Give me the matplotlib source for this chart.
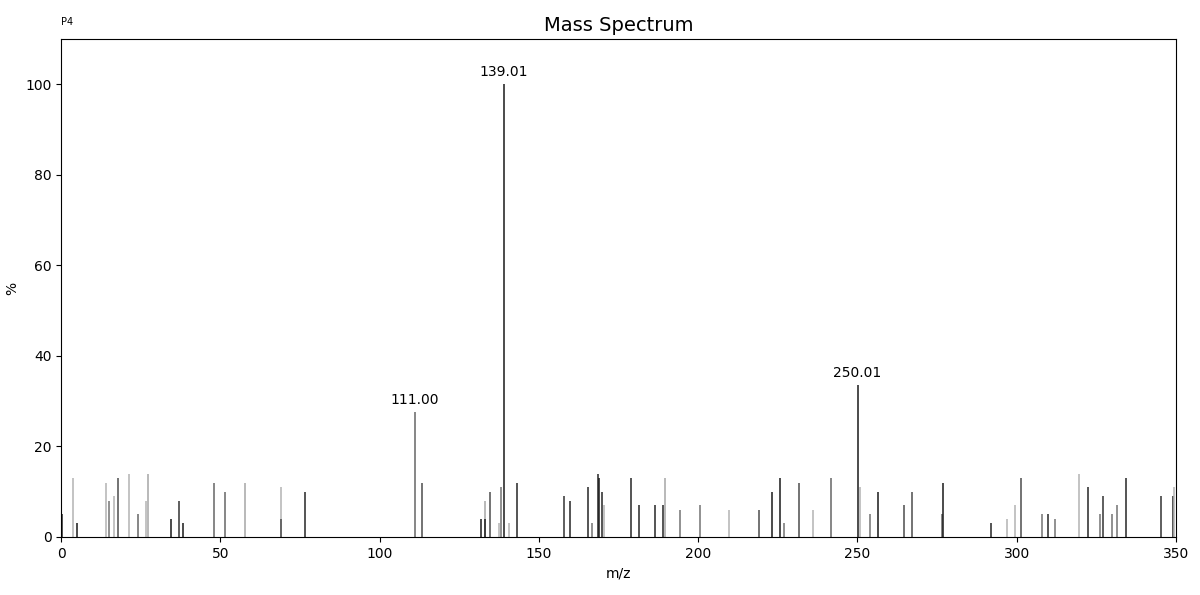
import matplotlib
matplotlib.use("Agg")
import matplotlib.pyplot as plt

# ---------- DATA ----------
mz = [0.3, 3.7, 5.1, 14.0, 15.0, 16.6, 17.9, 21.2, 24.1, 26.5, 27.4,
      34.6, 37.1, 38.1, 48.0, 51.5, 57.8, 69.0, 69.1, 76.6, 111.0, 113.4,
      131.8, 133.0, 133.2, 134.5, 137.5, 138.0, 139.01, 140.5, 143.0,
      158.0, 159.6, 165.5, 166.8, 168.6, 168.9, 169.7, 170.3, 178.9,
      181.5, 186.5, 189.0, 189.6, 194.3, 200.5, 209.7, 219.1, 223.3,
      225.8, 226.9, 231.6, 236.0, 241.8, 250.01, 250.9, 253.9, 256.3,
      256.5, 264.5, 267.2, 276.4, 276.9, 292.0, 296.8, 299.3, 301.4,
      307.8, 309.9, 311.9, 319.5, 322.3, 326.0, 327.2, 329.8, 331.5,
      334.3, 345.4, 349.0, 349.4]
intensity = [5, 13, 3, 12, 8, 9, 13, 14, 5, 8, 14,
             4, 8, 3, 12, 10, 12, 11, 4, 10, 27.5, 12,
             4, 8, 4, 10, 3, 11, 100, 3, 12,
             9, 8, 11, 3, 14, 13, 10, 7, 13,
             7, 7, 7, 13, 6, 7, 6, 6, 10,
             13, 3, 12, 6, 13, 33.5, 11, 5, 10,
             3, 7, 10, 5, 12, 3, 4, 7, 13,
             5, 5, 4, 14, 11, 5, 9, 5, 7,
             13, 9, 9, 11]
# grey level of each stick (0 = black, 1 = white)
shades = [0.15, 0.7, 0.1, 0.7, 0.45, 0.7, 0.3, 0.7, 0.4, 0.7, 0.65,
          0.1, 0.2, 0.1, 0.4, 0.4, 0.65, 0.7, 0.3, 0.15, 0.4, 0.3,
          0.1, 0.65, 0.1, 0.3, 0.7, 0.45, 0.1, 0.7, 0.15,
          0.2, 0.15, 0.15, 0.45, 0.15, 0.1, 0.15, 0.7, 0.15,
          0.15, 0.15, 0.15, 0.65, 0.45, 0.45, 0.7, 0.3, 0.1,
          0.1, 0.45, 0.3, 0.7, 0.4, 0.1, 0.7, 0.45, 0.1,
          0.3, 0.3, 0.3, 0.4, 0.1, 0.15, 0.7, 0.7, 0.3,
          0.45, 0.15, 0.45, 0.7, 0.15, 0.45, 0.2, 0.45, 0.45,
          0.15, 0.2, 0.15, 0.7]
labelled = [111.0, 139.01, 250.01]
# --------------------------

fig = plt.figure(figsize=(12, 5.95), dpi=100)
ax = fig.add_axes([0.051, 0.0975, 0.929, 0.837])

for x, y, g in zip(mz, intensity, shades):
    ax.vlines(x, 0, y, colors=str(g), linewidth=1.1)

for x, y in zip(mz, intensity):
    if x in labelled:
        ax.text(x, y + 1.2, f"{x:.2f}", ha="center", va="bottom", fontsize=10)

ax.set_xlim(0, 350)
ax.set_ylim(0, 110)
ax.set_xticks([0, 50, 100, 150, 200, 250, 300, 350])
ax.set_yticks([0, 20, 40, 60, 80, 100])
ax.tick_params(labelsize=10)
ax.set_xlabel("m/z")
ax.set_ylabel("%")
ax.set_title("Mass Spectrum", fontsize=14)
fig.text(0.051, 0.958, "P4", fontsize=7)

fig.savefig("out.png", dpi=100)
